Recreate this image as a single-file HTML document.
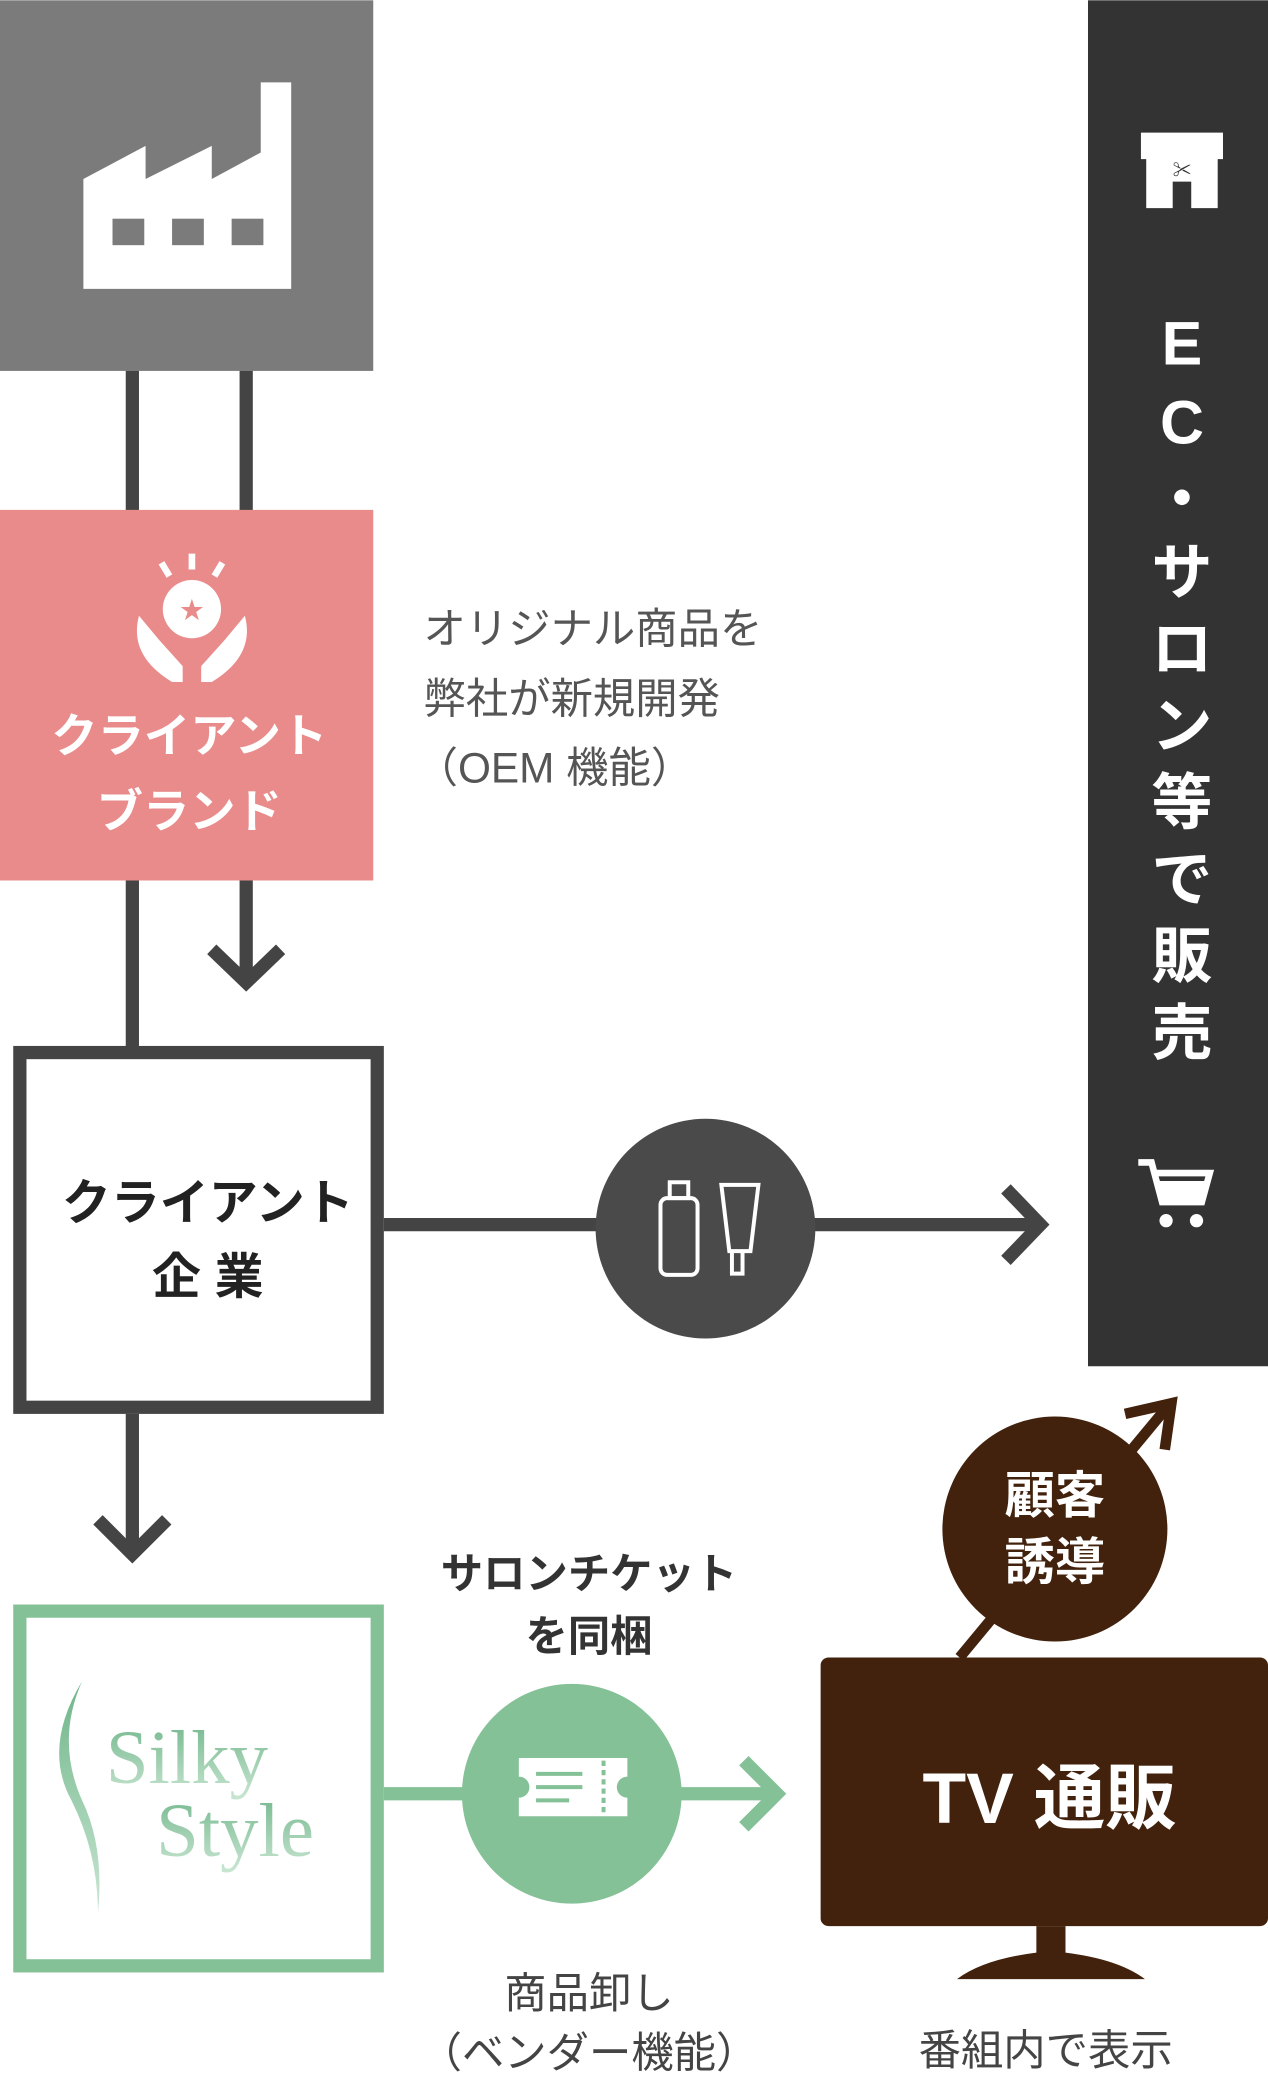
<!DOCTYPE html>
<html><head><meta charset="utf-8"><style>
html,body{margin:0;padding:0;background:#fff;}
svg{display:block;}
text{font-family:"Liberation Sans","Noto Sans CJK JP",sans-serif;}
</style></head><body>
<svg width="1268" height="2076" viewBox="0 0 958 1568" xmlns="http://www.w3.org/2000/svg">
<defs>
<linearGradient id="g" x1="0" y1="0" x2="0" y2="1"><stop offset="0" stop-color="#6fb58a"/><stop offset="1" stop-color="#c9e6d2"/></linearGradient>
</defs>
<rect x="0" y="0" width="282" height="280" fill="#7b7b7b"/>
<path d="M63 218 V135 L110 110 V135 L160 110 V135 L197 115 V62 H220 V218 Z" fill="#fff"/>
<rect x="85" y="165" width="24" height="20" fill="#7b7b7b"/><rect x="130" y="165" width="24" height="20" fill="#7b7b7b"/><rect x="175" y="165" width="24" height="20" fill="#7b7b7b"/>
<g stroke="#444" stroke-width="10" fill="none">
<line x1="100" y1="280" x2="100" y2="790"/>
<line x1="186" y1="280" x2="186" y2="740"/>
<polyline points="160,717 186,742 212,717"/>
<line x1="100" y1="1068" x2="100" y2="1172"/>
<polyline points="74,1148 100,1174 126,1148"/>
<line x1="290" y1="925" x2="785" y2="925"/>
<polyline points="760,898 786,925 760,952"/>
</g>
<rect x="0" y="385" width="282" height="280" fill="#e98b8b"/>
<g fill="#fff">
<circle cx="145" cy="460" r="22"/>
<path d="M122 425 l6 10 M145 418 v12 M168 425 l-6 10" stroke="#fff" stroke-width="5"/>
<path d="M105 465 q-8 30 25 50 h8 v-12 l-18 -20 z M185 465 q8 30 -25 50 h-8 v-12 l18 -20 z"/>
</g>
<text x="145" y="467" font-size="18" fill="#e98b8b" text-anchor="middle">★</text>
<g fill="#fff" font-weight="bold" font-size="35" text-anchor="middle">
<text x="143" y="568">クライアント</text>
<text x="143" y="625">ブランド</text>
</g>
<g fill="#555" font-size="32">
<text x="320" y="486">オリジナル商品を</text>
<text x="320" y="539">弊社が新規開発</text>
<text x="314" y="591">（OEM 機能）</text>
</g>
<rect x="15" y="795" width="270" height="268" fill="#fff" stroke="#444" stroke-width="10"/>
<g fill="#222" font-weight="bold" font-size="37" text-anchor="middle">
<text x="157" y="921">クライアント</text>
<text x="157" y="977">企 業</text>
</g>
<circle cx="533" cy="928" r="83" fill="#4a4a4a"/>
<g stroke="#fff" stroke-width="3" fill="none">
<rect x="499" y="905" width="28" height="58" rx="5"/><rect x="506" y="893" width="14" height="12"/>
<path d="M545 895 h28 l-6 50 h-16 z M553 945 v17 h8 v-17"/>
</g>
<rect x="822" y="0" width="136" height="1032" fill="#333"/>
<path d="M862 100 h62 v20 h-62 z M866 120 h54 v37 h-20 v-20 h-14 v20 h-20 z" fill="#fff"/>
<text x="893" y="133" font-size="14" fill="#333" text-anchor="middle">✂</text>
<g fill="#fff" font-weight="bold" font-size="46" text-anchor="middle">
<text x="893" y="275">E</text><text x="893" y="335">C</text><text x="893" y="393">・</text>
<text x="893" y="448">サ</text><text x="893" y="506">ロ</text><text x="893" y="564">ン</text>
<text x="893" y="622">等</text><text x="893" y="680">で</text><text x="893" y="738">販</text><text x="893" y="796">売</text>
</g>
<path d="M860 878 h10 l8 30 h30 l6 -22 h-40" stroke="#fff" stroke-width="5" fill="none"/>
<path d="M874 892 h38 l-5 16 h-30z" fill="#fff"/>
<circle cx="881" cy="922" r="5" fill="#fff"/><circle cx="904" cy="922" r="5" fill="#fff"/>
<rect x="15" y="1217" width="270" height="268" fill="#fff" stroke="#85c197" stroke-width="10"/>
<path d="M62 1270 q-30 50 -8 90 q20 40 20 85 q5 -50 -12 -85 q-20 -45 0 -90z" fill="url(#g)"/>
<g font-size="58" fill="url(#g)">
<text x="80" y="1347" style="font-family:'Liberation Serif',serif">Silky</text><text x="118" y="1402" style="font-family:'Liberation Serif',serif">Style</text>
</g>
<g stroke="#85c197" stroke-width="10" fill="none">
<line x1="290" y1="1355" x2="585" y2="1355"/>
<polyline points="562,1330 587,1355 562,1380"/>
</g>
<circle cx="432" cy="1355" r="83" fill="#85c197"/>
<path d="M392 1328 h82 v14 a8 8 0 0 0 0 16 v14 h-82 v-14 a8 8 0 0 0 0 -16 z" fill="#fff"/>
<g stroke="#85c197" stroke-width="3"><line x1="405" y1="1340" x2="440" y2="1340"/><line x1="405" y1="1350" x2="440" y2="1350"/><line x1="405" y1="1360" x2="430" y2="1360"/><line x1="456" y1="1330" x2="456" y2="1370" stroke-dasharray="4 3"/></g>
<g fill="#333" font-weight="bold" font-size="32" text-anchor="middle">
<text x="445" y="1200">サロンチケット</text><text x="445" y="1247">を同梱</text>
</g>
<g fill="#444" font-size="32" text-anchor="middle">
<text x="445" y="1517">商品卸し</text><text x="445" y="1562">（ベンダー機能）</text>
<text x="790" y="1560">番組内で表示</text>
</g>
<line x1="725" y1="1252" x2="880" y2="1065" stroke="#42220d" stroke-width="8"/>
<polyline points="850,1068 885,1060 880,1095" stroke="#42220d" stroke-width="8" fill="none"/>
<circle cx="797" cy="1155" r="85" fill="#42220d"/>
<g fill="#fff" font-weight="bold" font-size="38" text-anchor="middle">
<text x="797" y="1143">顧客</text><text x="797" y="1193">誘導</text>
</g>
<rect x="620" y="1252" width="338" height="203" rx="6" fill="#42220d"/>
<path d="M783 1455 h22 v20 q40 5 60 20 h-142 q20 -15 60 -20z" fill="#42220d"/>
<text x="793" y="1377" fill="#fff" font-weight="bold" font-size="54" text-anchor="middle">TV 通販</text>
</svg>
</body></html>
